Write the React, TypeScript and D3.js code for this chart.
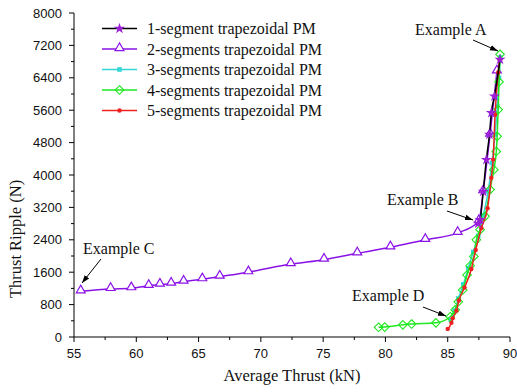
import React from "react";
import * as d3 from "d3";

const xTicks = [55, 60, 65, 70, 75, 80, 85, 90];
const yTicks = [0, 800, 1600, 2400, 3200, 4000, 4800, 5600, 6400, 7200, 8000];

const seriesNames = [
  "1-segment trapezoidal PM",
  "2-segments trapezoidal PM",
  "3-segments trapezoidal PM",
  "4-segments trapezoidal PM",
  "5-segments trapezoidal PM",
];

const s1: [number, number][] = [
  [87.45, 2800], [87.6, 2894], [87.85, 3594], [88.1, 4378], [88.35, 4997],
  [88.5, 5533], [88.75, 5944], [89.2, 6850],
];
const s2: [number, number][] = [
  [55.54, 1130], [57.94, 1187], [59.6, 1205], [61.0, 1262], [61.9, 1294],
  [62.8, 1318], [63.8, 1368], [65.3, 1427], [66.7, 1492], [69.0, 1600],
  [72.4, 1800], [75.07, 1910], [77.74, 2066], [80.4, 2214], [83.2, 2400],
  [85.8, 2570], [87.5, 2860], [87.85, 3600], [88.4, 5000], [88.95, 6560],
];
const s3: [number, number][] = [
  [85.25, 420], [85.55, 650], [85.85, 950], [86.25, 1300], [86.65, 1700],
  [87.05, 2100], [87.45, 2500], [87.85, 3000], [88.25, 3600], [88.55, 4300],
  [88.8, 5000], [88.98, 5700], [89.12, 6400], [89.22, 6900],
];
const s4: [number, number][] = [
  [79.45, 240], [79.95, 245], [81.4, 300], [82.1, 320], [84.05, 350],
  [85.2, 500], [85.6, 670], [85.85, 870], [86.2, 1160], [86.55, 1530],
  [86.8, 1760], [87.1, 1990], [87.3, 2400], [87.6, 2650], [88.0, 2980],
  [88.4, 3640], [88.7, 4130], [88.9, 4580], [88.97, 4955], [89.05, 5615],
  [89.12, 6300], [89.2, 6980],
];
const s5: [number, number][] = [
  [85.0, 200], [85.3, 350], [85.4, 460], [85.7, 650], [85.9, 900],
  [86.35, 1220], [86.9, 1680], [87.25, 2150], [87.7, 2690], [88.2, 3180],
  [88.5, 3930], [88.65, 4380], [88.8, 5490], [89.05, 6530], [89.15, 6850],
];

const annotations = [
  { text: "Example A", tx: 415, ty: 35, ax: [473, 40], bx: [498, 51] },
  { text: "Example B", tx: 387, ty: 205, ax: [447, 211], bx: [473, 220] },
  { text: "Example C", tx: 83, ty: 254, ax: [101, 259], bx: [82, 283] },
  { text: "Example D", tx: 352, ty: 301, ax: [423, 307], bx: [446, 316] },
];

const M = { left: 74, right: 510, top: 13, bottom: 337 };

const x = d3.scaleLinear().domain([55, 90]).range([M.left, M.right]);
const y = d3.scaleLinear().domain([0, 8000]).range([M.bottom, M.top]);

const line = d3
  .line<[number, number]>()
  .x((d) => x(d[0]))
  .y((d) => y(d[1]))
  .curve(d3.curveMonotoneX);

const PURPLE = "#8A12E6";
const STAR = "#9B1FD6";
const CYAN = "#33D6D6";
const GREEN = "#1EE81E";
const RED = "#F02020";

const starPath = d3.symbol(d3.symbolStar, 38)() as string;
const triPath = d3.symbol(d3.symbolTriangle, 34)() as string;
const diaPath = (cx: number, cy: number, r = 4.3) =>
  `M${cx},${cy - r}L${cx + r},${cy}L${cx},${cy + r}L${cx - r},${cy}Z`;

function Marker({ kind, cx, cy }: { kind: number; cx: number; cy: number }) {
  if (kind === 0)
    return <path d={starPath} transform={`translate(${cx},${cy})`} fill={STAR} />;
  if (kind === 1)
    return (
      <path
        d={triPath}
        transform={`translate(${cx},${cy - 1})`}
        fill="white"
        stroke={PURPLE}
        strokeWidth={1.2}
      />
    );
  if (kind === 2)
    return <rect x={cx - 2.3} y={cy - 2.3} width={4.6} height={4.6} fill={CYAN} />;
  if (kind === 3)
    return <path d={diaPath(cx, cy)} fill="none" stroke={GREEN} strokeWidth={1.1} />;
  return <circle cx={cx} cy={cy} r={2.2} fill={RED} />;
}

const seriesData = [s1, s2, s3, s4, s5];
const lineColors = ["#000000", PURPLE, CYAN, GREEN, RED];
const drawOrder = [1, 2, 3, 4, 0];

export default function App() {
  const minorX = d3.range(55, 90.01, 2.5);
  const minorY = d3.range(0, 8000.1, 400);
  const legendY = [28.5, 49, 69.5, 90, 110.5];
  return (
    <svg
      width={517}
      height={392}
      style={{ position: "absolute", left: 0, top: 0, background: "white" }}
    >
      <defs>
        <marker
          id="arr"
          viewBox="0 0 10 10"
          refX={10}
          refY={5}
          markerWidth={8}
          markerHeight={8}
          markerUnits="userSpaceOnUse"
          orient="auto"
        >
          <path d="M0,1.5L10,5L0,8.5Z" fill="#000" />
        </marker>
      </defs>

      {drawOrder.map((i) => (
        <g key={i}>
          <path
            d={line(seriesData[i]) as string}
            fill="none"
            stroke={lineColors[i]}
            strokeWidth={1.5}
          />
          {seriesData[i].map((d, j) => (
            <Marker key={j} kind={i} cx={x(d[0])} cy={y(d[1])} />
          ))}
        </g>
      ))}

      <line x1={M.left} x2={M.right} y1={M.bottom} y2={M.bottom} stroke="#000" strokeWidth={1} />
      <line x1={M.left} x2={M.left} y1={M.top} y2={M.bottom} stroke="#000" strokeWidth={1} />
      {minorX.map((v) => {
        const major = Math.abs(v % 5) < 1e-6;
        return (
          <line
            key={"mx" + v}
            x1={x(v)}
            x2={x(v)}
            y1={M.bottom}
            y2={M.bottom + (major ? 5 : 3)}
            stroke="#000"
          />
        );
      })}
      {minorY.map((v) => {
        const major = Math.abs(v % 800) < 1e-6;
        return (
          <line
            key={"my" + v}
            x1={M.left - (major ? 5 : 3)}
            x2={M.left}
            y1={y(v)}
            y2={y(v)}
            stroke="#000"
          />
        );
      })}
      {xTicks.map((v) => (
        <text
          key={"xt" + v}
          x={x(v)}
          y={358}
          textAnchor="middle"
          fontFamily="Liberation Sans, Arial, sans-serif"
          fontSize={13}
          fill="#111"
        >
          {v}
        </text>
      ))}
      {yTicks.map((v) => (
        <text
          key={"yt" + v}
          x={62}
          y={y(v)}
          dy="0.35em"
          textAnchor="end"
          fontFamily="Liberation Sans, Arial, sans-serif"
          fontSize={13}
          fill="#111"
        >
          {v}
        </text>
      ))}
      <text
        x={292}
        y={381}
        textAnchor="middle"
        fontFamily="Liberation Serif, Times New Roman, serif"
        fontSize={16.5}
        fill="#111"
      >
        Average Thrust (kN)
      </text>
      <text
        transform="translate(21,239) rotate(-90)"
        textAnchor="middle"
        fontFamily="Liberation Serif, Times New Roman, serif"
        fontSize={16.5}
        fill="#111"
      >
        Thrust Ripple (N)
      </text>

      {seriesNames.map((name, i) => (
        <g key={name}>
          <line
            x1={102}
            x2={137}
            y1={legendY[i]}
            y2={legendY[i]}
            stroke={lineColors[i]}
            strokeWidth={1.5}
          />
          <Marker kind={i} cx={119.5} cy={legendY[i]} />
          <text
            x={147}
            y={legendY[i] + 5.5}
            fontFamily="Liberation Serif, Times New Roman, serif"
            fontSize={16}
            fill="#111"
          >
            {name}
          </text>
        </g>
      ))}

      {annotations.map((a) => (
        <g key={a.text}>
          <text
            x={a.tx}
            y={a.ty}
            fontFamily="Liberation Serif, Times New Roman, serif"
            fontSize={16}
            fill="#111"
          >
            {a.text}
          </text>
          <line
            x1={a.ax[0]}
            y1={a.ax[1]}
            x2={a.bx[0]}
            y2={a.bx[1]}
            stroke="#000"
            strokeWidth={1}
            markerEnd="url(#arr)"
          />
        </g>
      ))}
    </svg>
  );
}
